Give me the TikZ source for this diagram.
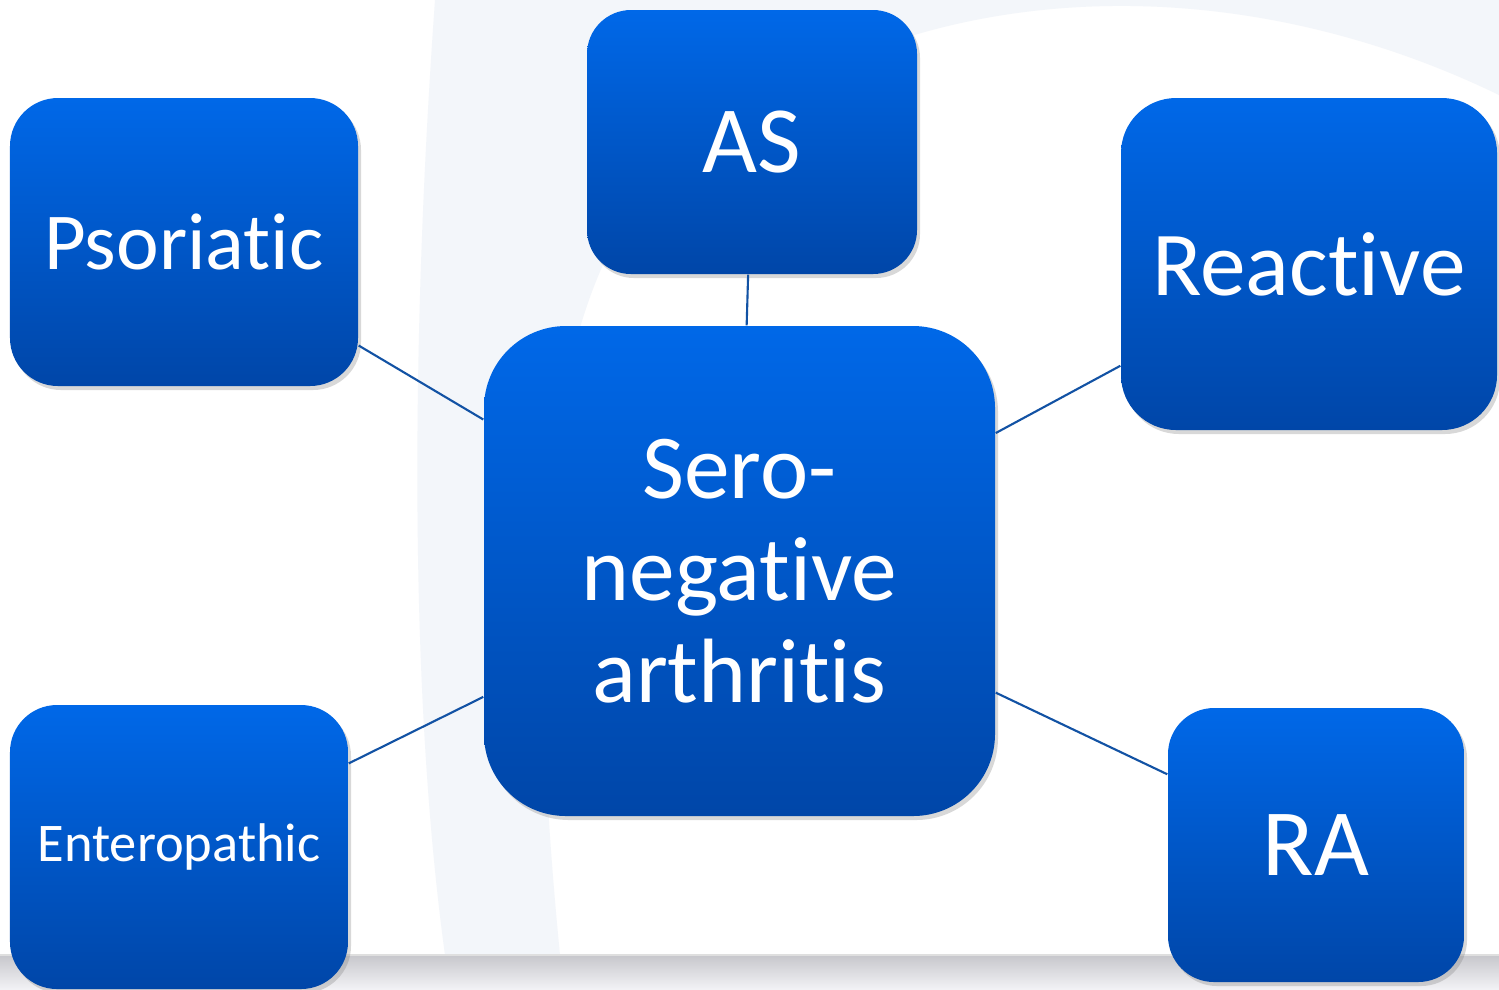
\documentclass[tikz,border=0pt]{standalone}
\usepackage{fontspec}
\setmainfont{Carlito}[Ligatures=NoCommon]
\usetikzlibrary{shadows}
\definecolor{boxtop}{RGB}{0,104,232}
\definecolor{boxbottom}{RGB}{0,70,168}
\definecolor{linkblue}{RGB}{18,82,164}
\definecolor{swoosh}{RGB}{243,246,250}
\definecolor{bandtop}{RGB}{200,200,205}
\definecolor{bandbottom}{RGB}{242,242,245}

\begin{document}
\begin{tikzpicture}[
		box/.style={rectangle, inner sep=0pt, align=center, text=white,
			top color=boxtop, bottom color=boxbottom,
			drop shadow={shadow xshift=0.03cm, shadow yshift=-0.04cm, opacity=0.3}},
		link/.style={draw=linkblue, line width=0.6pt}]
	\useasboundingbox (0,0) rectangle (14.99,-9.89);
	\fill [white] (0,0) rectangle (14.99,-9.89);
	\fill [swoosh] (4.35,0) .. controls (4.1,-3.5) and (4.1,-7) .. (4.45,-9.55)
		-- (5.6,-9.55) .. controls (5.3,-6.5) and (5.3,-3.5) .. (6.4,-2.0)
		.. controls (8.5,0.2) and (12,0.5) .. (14.99,-0.95) -- (14.99,0) -- cycle;
	\shade [top color=bandtop, bottom color=bandbottom] (0,-9.56) rectangle (14.99,-9.89);
	\draw [gray!25] (0,-9.55) -- (14.99,-9.55);

	\node (sero) [box, minimum width=5.11cm, minimum height=4.90cm, rounded corners=0.82cm,
		font=\fontsize{26}{29}\selectfont] at (7.395,-5.71) {Sero-\\negative\\arthritis};
	\node (psoriatic) [box, minimum width=3.48cm, minimum height=2.88cm, rounded corners=0.48cm,
		font=\fontsize{23}{27}\selectfont] at (1.84,-2.42) {Psoriatic};
	\node (as) [box, minimum width=3.30cm, minimum height=2.64cm, rounded corners=0.44cm,
		font=\fontsize{27}{31}\selectfont] at (7.52,-1.42) {AS};
	\node (reactive) [box, minimum width=3.76cm, minimum height=3.32cm, rounded corners=0.55cm,
		font=\fontsize{26}{30}\selectfont] at (13.09,-2.64) {Reactive};
	\node (entero) [box, minimum width=3.38cm, minimum height=2.84cm, rounded corners=0.47cm,
		font=\fontsize{15.5}{18}\selectfont] at (1.79,-8.47) {Enteropathic};
	\node (ra) [box, minimum width=2.96cm, minimum height=2.74cm, rounded corners=0.46cm,
		font=\fontsize{27}{31}\selectfont] at (13.16,-8.45) {RA};

	\draw [link] (as) -- (sero);
	\draw [link] (psoriatic) -- (sero);
	\draw [link] (reactive) -- (sero);
	\draw [link] (entero) -- (sero);
	\draw [link] (ra) -- (sero);
\end{tikzpicture}
\end{document}
